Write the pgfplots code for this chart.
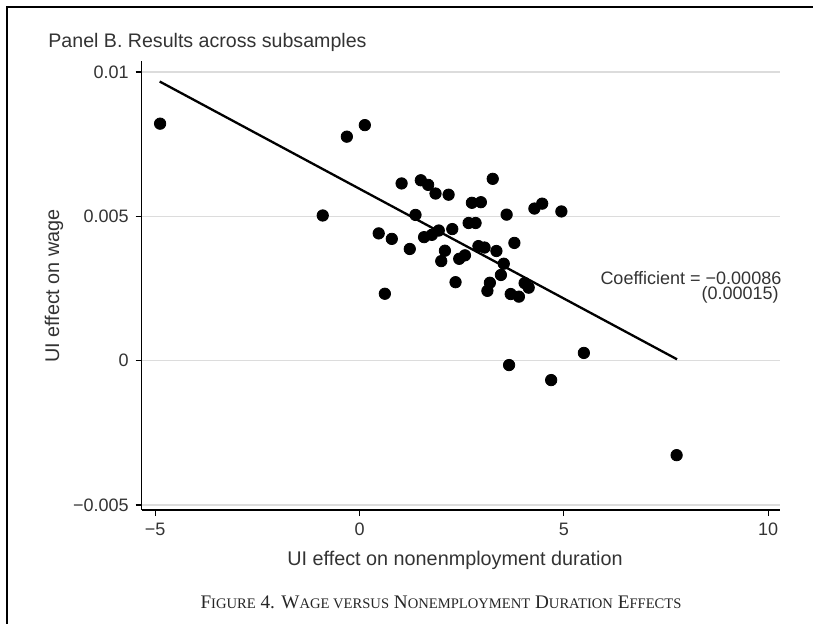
\documentclass[border=0pt]{standalone}
\usepackage{fontspec}
\setmainfont{Liberation Sans}
\newfontfamily\serif{Liberation Serif}
\usepackage{pgfplots}
\pgfplotsset{compat=1.18}
\definecolor{gridgray}{HTML}{DCDCDC}
\definecolor{txt}{HTML}{333333}
\newcommand\sm[1]{{\fontsize{7.3}{9}\selectfont #1}}
\begin{document}
\begin{tikzpicture}
\useasboundingbox (0,0) rectangle (406.5pt,-311.5pt);
\draw[line width=1pt] (3.65pt,-312pt) -- (3.65pt,-3.5pt) -- (407pt,-3.5pt);
\node[anchor=west, inner sep=0pt, text=txt, font=\fontsize{9.8}{12}\selectfont] at (24pt,-21.35pt) {Panel B. Results across subsamples};
\node[rotate=90, inner sep=0pt, text=txt, font=\fontsize{9.9}{12}\selectfont] at (27pt,-143pt) {UI effect on wage};
\node[inner sep=0pt, text=txt, font=\fontsize{9.9}{12}\selectfont] at (227.5pt,-280pt) {UI effect on nonenmployment duration};
\node[inner sep=0pt, text=black!85, font=\serif\fontsize{9.6}{11}\selectfont] at (220.5pt,-301pt) {F\sm{IGURE} 4. W\sm{AGE VERSUS} N\sm{ONEMPLOYMENT} D\sm{URATION} E\sm{FFECTS}};
\node[anchor=east, inner sep=0pt, text=txt, font=\fontsize{9}{11}\selectfont] at (390.85pt,-139pt) {Coefficient = −0.00086};
\node[anchor=east, inner sep=0pt, text=txt, font=\fontsize{9}{11}\selectfont] at (389.5pt,-147.5pt) {(0.00015)};
\begin{axis}[
  at={(70.85pt,-255pt)}, anchor=south west,
  scale only axis, width=319.15pt, height=224.5pt,
  xmin=-5.33, xmax=10.29, ymin=-0.00517, ymax=0.01038,
  axis x line*=bottom, axis y line*=left,
  axis line style={line width=0.65pt, black},
  xtick={-5,0,5,10}, xticklabels={−5,0,5,10},
  ytick={-0.005,0,0.005,0.01}, yticklabels={−0.005,0,0.005,0.01},
  scaled y ticks=false,
  tick align=outside, major tick length=3pt,
  tick style={line width=0.65pt, black},
  ymajorgrids, grid style={line width=0.65pt, gridgray},
  ticklabel style={font=\fontsize{9}{10}\selectfont, text=txt},
  clip=false,
]
\addplot[black, line width=1.15pt] coordinates {(-4.89,0.00967) (7.77,0.00005)};
\addplot[only marks, mark=*, mark size=2.85pt, mark options={fill=black, draw=black}] coordinates {
(-0.90,0.00503) (1.03,0.00614) (1.50,0.00625) (1.68,0.00609) (1.86,0.00579)
(2.18,0.00575) (3.26,0.00630) (2.75,0.00547) (2.97,0.00549) (3.60,0.00506)
(4.28,0.00527) (4.47,0.00544) (4.94,0.00517) (1.37,0.00505) (0.47,0.00441)
(0.79,0.00422) (1.23,0.00387) (0.62,0.00232) (1.58,0.00428) (1.77,0.00436)
(1.94,0.00451) (2.27,0.00456) (2.67,0.00477) (2.84,0.00477) (2.09,0.00381)
(2.00,0.00345) (2.44,0.00353) (2.58,0.00365) (2.35,0.00272) (2.91,0.00397)
(3.06,0.00392) (3.35,0.00380) (3.79,0.00408) (3.53,0.00336) (3.46,0.00297)
(3.19,0.00270) (3.13,0.00242) (4.04,0.00269) (4.14,0.00253) (3.70,0.00231)
(3.90,0.00222) (5.49,0.00027) (3.66,-0.00015) (4.69,-0.00067) (-4.88,0.00821)
(-0.31,0.00776) (0.13,0.00816) (7.76,-0.00327)
};
\end{axis}
\end{tikzpicture}
\end{document}
